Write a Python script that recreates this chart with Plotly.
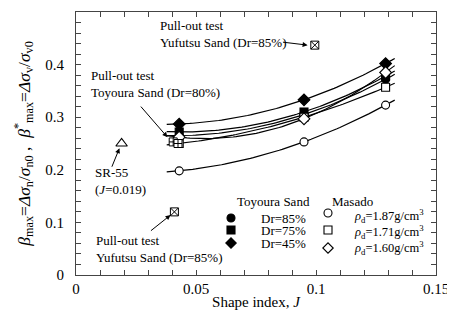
import numpy as np
import plotly.graph_objects as go

# ---- data ----
J_vals = [0.043, 0.095, 0.129]
toyoura_85 = [0.265, 0.305, 0.372]
toyoura_75 = [0.272, 0.310, 0.378]
toyoura_45 = [0.287, 0.333, 0.402]
masado_187 = [0.198, 0.253, 0.323]
masado_171 = [0.250, 0.300, 0.357]
masado_160 = [0.262, 0.297, 0.385]

sr55_J = [0.019]
sr55_beta = [0.250]
pull_toyoura_J = [0.0405, 0.0425]
pull_toyoura_beta = [0.253, 0.250]
pull_yufutsu_J = [0.0995, 0.041]
pull_yufutsu_beta = [0.437, 0.120]

FONT = "Times New Roman, Liberation Serif, DejaVu Serif, serif"
fig = go.Figure()

series = [
    (toyoura_85, "circle", "black"),
    (toyoura_75, "square", "black"),
    (toyoura_45, "diamond", "black"),
    (masado_187, "circle", "white"),
    (masado_171, "square", "white"),
    (masado_160, "diamond", "white"),
]

Jfit = np.linspace(0.0378, 0.1328, 80)
for vals, sym, fill in series:
    c = np.polyfit(J_vals, vals, 2)
    fig.add_trace(go.Scatter(x=Jfit, y=np.polyval(c, Jfit), mode="lines",
                             line=dict(color="black", width=1.2), showlegend=False, hoverinfo="skip"))
for vals, sym, fill in series:
    fig.add_trace(go.Scatter(x=J_vals, y=vals, mode="markers", showlegend=False,
                             marker=dict(symbol=sym, size=8 if sym != "diamond" else 9, color=fill,
                                         line=dict(color="black", width=1.1))))

fig.add_trace(go.Scatter(x=pull_toyoura_J, y=pull_toyoura_beta, mode="markers", showlegend=False,
                         marker=dict(symbol="square-cross", size=8, color="white",
                                     line=dict(color="black", width=1))))
fig.add_trace(go.Scatter(x=pull_yufutsu_J, y=pull_yufutsu_beta, mode="markers", showlegend=False,
                         marker=dict(symbol="square-x", size=8, color="white",
                                     line=dict(color="black", width=1))))
fig.add_trace(go.Scatter(x=sr55_J, y=sr55_beta, mode="markers", showlegend=False,
                         marker=dict(symbol="triangle-up", size=10, color="white",
                                     line=dict(color="black", width=1.1))))

# legend glyphs on an overlay axis in plot-area pixel units
leg_glyphs = [
    (155, 206, "circle", "black"), (155, 218, "square", "black"), (155, 231, "diamond", "black"),
    (252, 201, "circle", "white"), (252, 218, "square", "white"), (252, 236, "diamond", "white"),
]
fig.add_trace(go.Scatter(x=[g[0] for g in leg_glyphs], y=[g[1] for g in leg_glyphs],
                         xaxis="x2", yaxis="y2", mode="markers", showlegend=False,
                         marker=dict(symbol=[g[2] for g in leg_glyphs], size=8,
                                     color=[g[3] for g in leg_glyphs],
                                     line=dict(color="black", width=1.1))))

ann = []
def txt(x, y, t, xref="x", yref="y", xanchor="left", size=13):
    ann.append(dict(x=x, y=y, xref=xref, yref=yref, text=t, showarrow=False, align="left",
                    xanchor=xanchor, yanchor="middle", font=dict(family=FONT, size=size, color="black")))

def arrow(x, y, ax, ay):
    ann.append(dict(x=x, y=y, ax=ax, ay=ay, xref="x", yref="y", axref="x", ayref="y", text="",
                    showarrow=True, arrowhead=2, arrowsize=1, arrowwidth=1, arrowcolor="black"))

txt(0.034, 0.458, "Pull-out test<br>Yufutsu Sand (Dr=85%)")
arrow(0.0965, 0.437, 0.0856, 0.443)
txt(0.0056, 0.364, "Pull-out test<br>Toyoura Sand (Dr=80%)")
arrow(0.0381, 0.262, 0.0265, 0.323)
txt(0.0069, 0.179, "SR-55<br>(<i>J</i>=0.019)")
arrow(0.0181, 0.241, 0.0147, 0.203)
txt(0.0077, 0.050, "Pull-out test<br>Yufutsu Sand (Dr=85%)")
arrow(0.0394, 0.114, 0.0306, 0.082)

txt(197, 189, "Toyoura Sand", "x2", "y2", "center")
txt(276, 189, "Masado", "x2", "y2", "center")
txt(183, 206, "Dr=85%", "x2", "y2")
txt(183, 218, "Dr=75%", "x2", "y2")
txt(183, 231, "Dr=45%", "x2", "y2")
txt(276, 204, "<i>ρ</i><sub>d</sub>=1.87g/cm<sup>3</sup>", "x2", "y2", size=12.5)
txt(276, 220, "<i>ρ</i><sub>d</sub>=1.71g/cm<sup>3</sup>", "x2", "y2", size=12.5)
txt(276, 236, "<i>ρ</i><sub>d</sub>=1.60g/cm<sup>3</sup>", "x2", "y2", size=12.5)

axis_common = dict(showgrid=False, zeroline=False, showline=True, linecolor="#444", linewidth=1,
                   mirror="allticks", ticks="inside", ticklen=5, tickcolor="#444", automargin=False,
                   tickfont=dict(family=FONT, size=15, color="black"))

# page body has an 8px margin; compensate so the plot area sits where the reference's does
fig.update_layout(
    width=447, height=312, margin=dict(l=68, r=19, t=4, b=45),
    paper_bgcolor="white", plot_bgcolor="white",
    font=dict(family=FONT, color="black"),
    annotations=ann,
    xaxis=dict(range=[0, 0.15], tickvals=[0, 0.05, 0.1, 0.15], ticktext=["0", "0.05", "0.1", "0.15"],
               minor=dict(dtick=0.01, ticks="inside", ticklen=5, tickcolor="#444"),
               title=dict(text="Shape index, <i>J</i>", font=dict(family=FONT, size=15), standoff=0),
               **axis_common),
    yaxis=dict(range=[0, 0.5], tickvals=[0, 0.1, 0.2, 0.3, 0.4, 0.5],
               ticktext=["0", "0.1", "0.2", "0.3", "0.4", "0.5"],
               minor=dict(dtick=0.02, ticks="inside", ticklen=5, tickcolor="#444"),
               ticklabelstandoff=8,
               title=dict(text="<i>β</i><sub>max</sub>=<i>Δσ</i><sub>n</sub>/<i>σ</i><sub>n0</sub> ,  "
                               "<i>β</i><sup>*</sup><sub>max</sub>=<i>Δσ</i><sub>v</sub>/<i>σ</i><sub>v0</sub>",
                          font=dict(family=FONT, size=17.5), standoff=10),
               **axis_common),
    xaxis2=dict(overlaying="x", range=[0, 360], visible=False, anchor="y2"),
    yaxis2=dict(overlaying="y", range=[263, 0], visible=False, anchor="x2"),
)

fig.write_html("out.html")
